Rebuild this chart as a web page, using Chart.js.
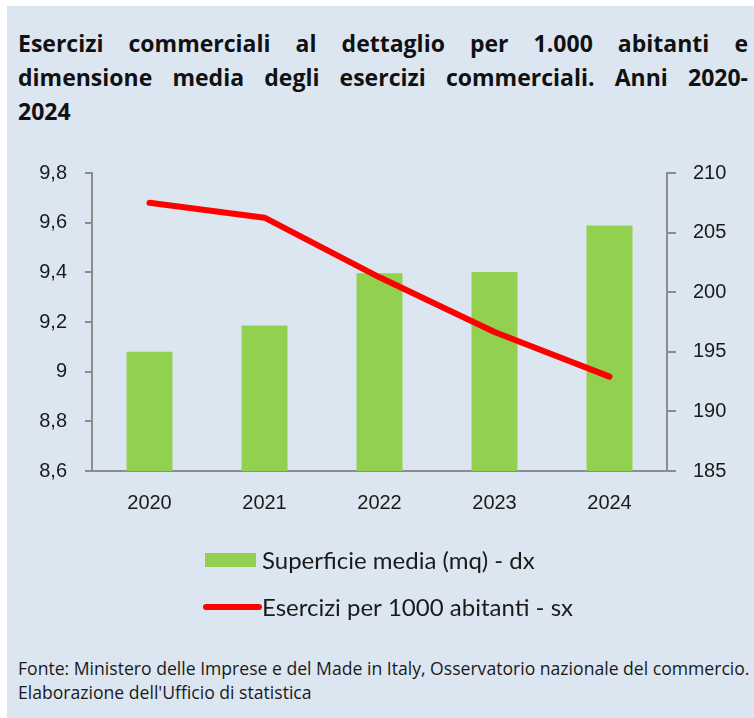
<!DOCTYPE html>
<html>
<head>
<meta charset="utf-8">
<script src="https://cdn.jsdelivr.net/npm/chart.js@4/dist/chart.umd.min.js"></script>
<style>
  html, body { margin: 0; padding: 0; background: #ffffff; }
  #box {
    position: absolute; left: 7px; top: 6px; width: 747px; height: 712px;
    background: #dce6f1; overflow: hidden;
  }
  .tl {
    position: absolute; left: 11px; width: 730px;
    font-family: "Open Sans", sans-serif; font-weight: 700; font-size: 23px;
    color: #111; white-space: nowrap; line-height: 1;
  }
  .just { text-align: justify; text-align-last: justify; white-space: normal; }
  #wrap { position: absolute; left: 0; top: 134px; width: 747px; height: 500px; }
  .ft {
    position: absolute; left: 11px; font-family: "Open Sans", sans-serif;
    font-size: 17.6px; color: #1a1a1a; white-space: nowrap; line-height: 1;
  }
</style>
</head>
<body>
<div id="box">
  <div class="tl just" style="top:26px">Esercizi commerciali al dettaglio per 1.000 abitanti e</div>
  <div class="tl just" style="top:60px">dimensione media degli esercizi commerciali. Anni 2020-</div>
  <div class="tl" style="top:94px">2024</div>
  <div id="wrap"><canvas id="chart" width="747" height="500"></canvas></div>
  <div class="ft" style="top:654px">Fonte: Ministero delle Imprese e del Made in Italy, Osservatorio nazionale del commercio.</div>
  <div class="ft" style="top:678px">Elaborazione dell'Ufficio di statistica</div>
</div>
<script>
// data
const years = ['2020', '2021', '2022', '2023', '2024'];
const superficieMedia = [195.0, 197.2, 201.6, 201.7, 205.6]; // mq, right axis
const eserciziPer1000 = [9.68, 9.62, 9.38, 9.16, 8.98];     // left axis
const leftTicks = [8.6, 9.8, 0.2];   // min, max, step
const rightTicks = [185, 210, 5];

const tickFont = { family: 'Liberation Sans', size: 20 };
const axisGray = '#8c8c8c';

// legend drawn below the plot, one item per row
const rowLegend = {
  id: 'rowLegend',
  afterDraw(chart) {
    const ctx = chart.ctx;
    const x0 = 199, x1 = 249;
    const rows = [420, 467];
    ctx.save();
    ctx.font = '24px Lato';
    ctx.textBaseline = 'middle';
    chart.data.datasets.forEach((ds, i) => {
      const y = rows[i];
      if (ds.type === 'bar') {
        ctx.fillStyle = ds.backgroundColor;
        ctx.fillRect(x0 - 1, y - 7, x1 - x0 + 1, 14);
      } else {
        ctx.strokeStyle = ds.borderColor;
        ctx.lineWidth = 6;
        ctx.lineCap = 'round';
        ctx.beginPath();
        ctx.moveTo(x0, y);
        ctx.lineTo(x1 + 3, y);
        ctx.stroke();
      }
      ctx.fillStyle = '#1a1a1a';
      ctx.fillText(ds.label, 255, y + 1);
    });
    ctx.restore();
  }
};

const ctx = document.getElementById('chart').getContext('2d');
const chart = new Chart(ctx, {
  data: {
    labels: years,
    datasets: [{
      type: 'bar',
      label: 'Superficie media (mq) - dx',
      data: superficieMedia,
      yAxisID: 'y1',
      backgroundColor: '#92d050',
      categoryPercentage: 1,
      barPercentage: 0.4,
      order: 1
    }, {
      type: 'line',
      label: 'Esercizi per 1000 abitanti - sx',
      data: eserciziPer1000,
      yAxisID: 'y',
      borderColor: '#ff0000',
      borderWidth: 6,
      borderCapStyle: 'round',
      borderJoinStyle: 'round',
      pointRadius: 0,
      tension: 0,
      order: 0
    }]
  },
  options: {
    responsive: false,
    animation: false,
    layout: { padding: { top: 33, bottom: 119, left: 0, right: 0 } },
    plugins: { legend: { display: false }, tooltip: { enabled: false } },
    scales: {
      x: {
        grid: { display: false, drawTicks: false },
        border: { display: true, color: axisGray, width: 2 },
        ticks: { color: '#1a1a1a', font: tickFont, padding: 20 },
        afterFit: (s) => { s.height = 50; }
      },
      y: {
        position: 'left',
        min: leftTicks[0], max: leftTicks[1],
        grid: { drawOnChartArea: false, color: axisGray, lineWidth: 2, tickLength: 7 },
        border: { color: axisGray, width: 2 },
        ticks: {
          stepSize: leftTicks[2], color: '#1a1a1a', font: tickFont, padding: 18,
          callback: (v) => String(Number(v.toFixed(1))).replace('.', ',')
        },
        afterFit: (s) => { s.width = 85; }
      },
      y1: {
        position: 'right',
        min: rightTicks[0], max: rightTicks[1],
        grid: { drawOnChartArea: false, color: axisGray, lineWidth: 2, tickLength: 9 },
        border: { color: axisGray, width: 2 },
        ticks: { stepSize: rightTicks[2], color: '#1a1a1a', font: tickFont, padding: 17 },
        afterFit: (s) => { s.width = 87; }
      }
    }
  },
  plugins: [rowLegend]
});
</script>
</body>
</html>
